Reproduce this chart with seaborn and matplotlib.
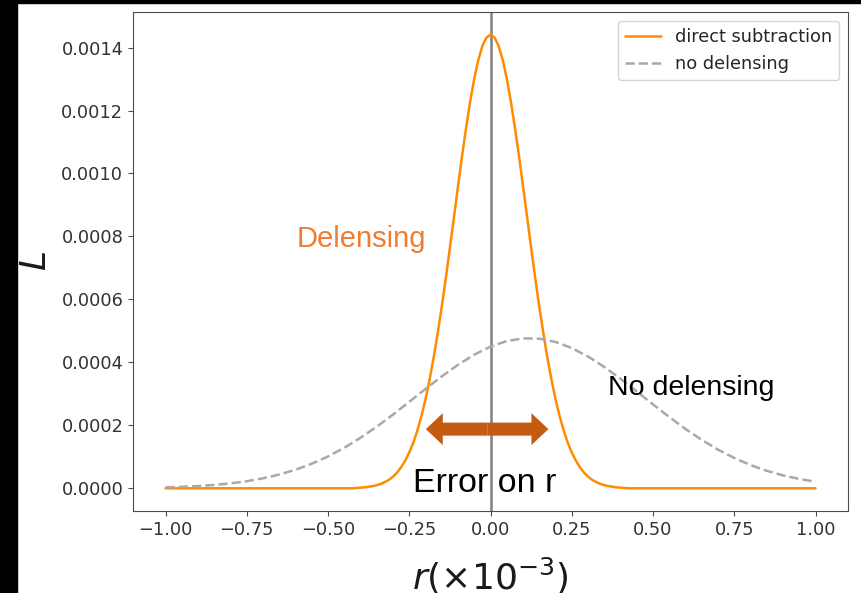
import numpy as np
import pandas as pd
import matplotlib
matplotlib.use("Agg")
import matplotlib.pyplot as plt
from matplotlib.patches import Rectangle
from matplotlib.ticker import MultipleLocator
import seaborn as sns

# likelihood curves (values in units of 1e-4)
# direct subtraction: symmetric about r=0, half curve from r=0 to r=1 in steps of 0.0125
r_delens = np.round(np.arange(-1.0, 1.0001, 0.0125), 4)
L_delens_half = [14.41, 14.32, 14.05, 13.61, 13.02, 12.29, 11.46, 10.56, 9.60, 8.61,
                 7.64, 6.68, 5.77, 4.93, 4.15, 3.45, 2.83, 2.30, 1.84, 1.45,
                 1.14, 0.88, 0.67, 0.50, 0.37, 0.27, 0.20, 0.14, 0.10, 0.07,
                 0.05, 0.03, 0.02, 0.01] + [0.0] * 47
L_delens = L_delens_half[::-1] + L_delens_half[1:]

r_nodelens = np.round(np.arange(-1.0, 1.0001, 0.05), 2)
L_nodelens = [0.030, 0.047, 0.072, 0.107, 0.157, 0.225, 0.317, 0.437, 0.590, 0.781,
              1.012, 1.287, 1.604, 1.958, 2.342, 2.747, 3.156, 3.555, 3.924, 4.245,
              4.501, 4.677, 4.762, 4.753, 4.648, 4.456, 4.186, 3.854, 3.477, 3.075,
              2.665, 2.263, 1.884, 1.537, 1.229, 0.963, 0.739, 0.556, 0.410, 0.297,
              0.210]

labels = ["direct subtraction", "no delensing"]

df1 = pd.DataFrame({"r": r_delens, "L": np.array(L_delens) * 1e-4})
df2 = pd.DataFrame({"r": r_nodelens, "L": np.array(L_nodelens) * 1e-4})

sns.set_style("ticks", {"axes.edgecolor": "0.3", "xtick.color": "0.3", "ytick.color": "0.3",
                        "text.color": "0.15", "axes.labelcolor": "0.1"})

fig = plt.figure(figsize=(8.62, 5.93), dpi=100)
ax = fig.add_axes([0.1543, 0.1383, 0.9838 - 0.1543, 0.9798 - 0.1383])

sns.lineplot(data=df1, x="r", y="L", ax=ax, color="darkorange", lw=1.8, label=labels[0])
sns.lineplot(data=df2, x="r", y="L", ax=ax, color="darkgray", lw=1.8, ls="--", label=labels[1])
ax.axvline(0, color="gray", lw=1.8, zorder=0)

ax.xaxis.set_major_locator(MultipleLocator(0.25))
ax.yaxis.set_major_locator(MultipleLocator(0.0002))
ax.tick_params(labelsize=12.8, labelcolor="0.2")
ax.set_xlabel(r"$r(\times10^{-3})$", fontsize=26, labelpad=12)
ax.set_ylabel(r"$L$", fontsize=26, labelpad=6)
ax.legend(loc="upper right", fontsize=12.8)

# slide overlays
ax.text(-0.598, 0.000767, "Delensing", color="#ee7d31", fontsize=21,
        family="Liberation Sans", va="baseline", ha="left")
ax.text(0.362, 0.000296, "No delensing", color="black", fontsize=20.5,
        family="Liberation Sans", va="baseline", ha="left")
ax.text(-0.239, -0.0000127, "Error on r", color="black", fontsize=24.5,
        family="Liberation Sans", va="baseline", ha="left", zorder=5)
arrow_style = "simple,head_length=0.61,head_width=1.15,tail_width=0.47"
for tip in (-0.199, 0.178):
    ax.annotate("", xy=(tip, 0.000188), xytext=(-0.01, 0.000188),
                arrowprops=dict(arrowstyle=arrow_style, color="#c55a11",
                                mutation_scale=20, shrinkA=0, shrinkB=0, lw=0))

# black screenshot borders
fig.patches.append(Rectangle((0, 0), 17 / 862, 1, transform=fig.transFigure,
                             color="black", zorder=-1))
fig.patches.append(Rectangle((0, 1 - 3 / 593), 1, 3 / 593, transform=fig.transFigure,
                             color="black", zorder=-1))

fig.savefig("out.png", dpi=100)
